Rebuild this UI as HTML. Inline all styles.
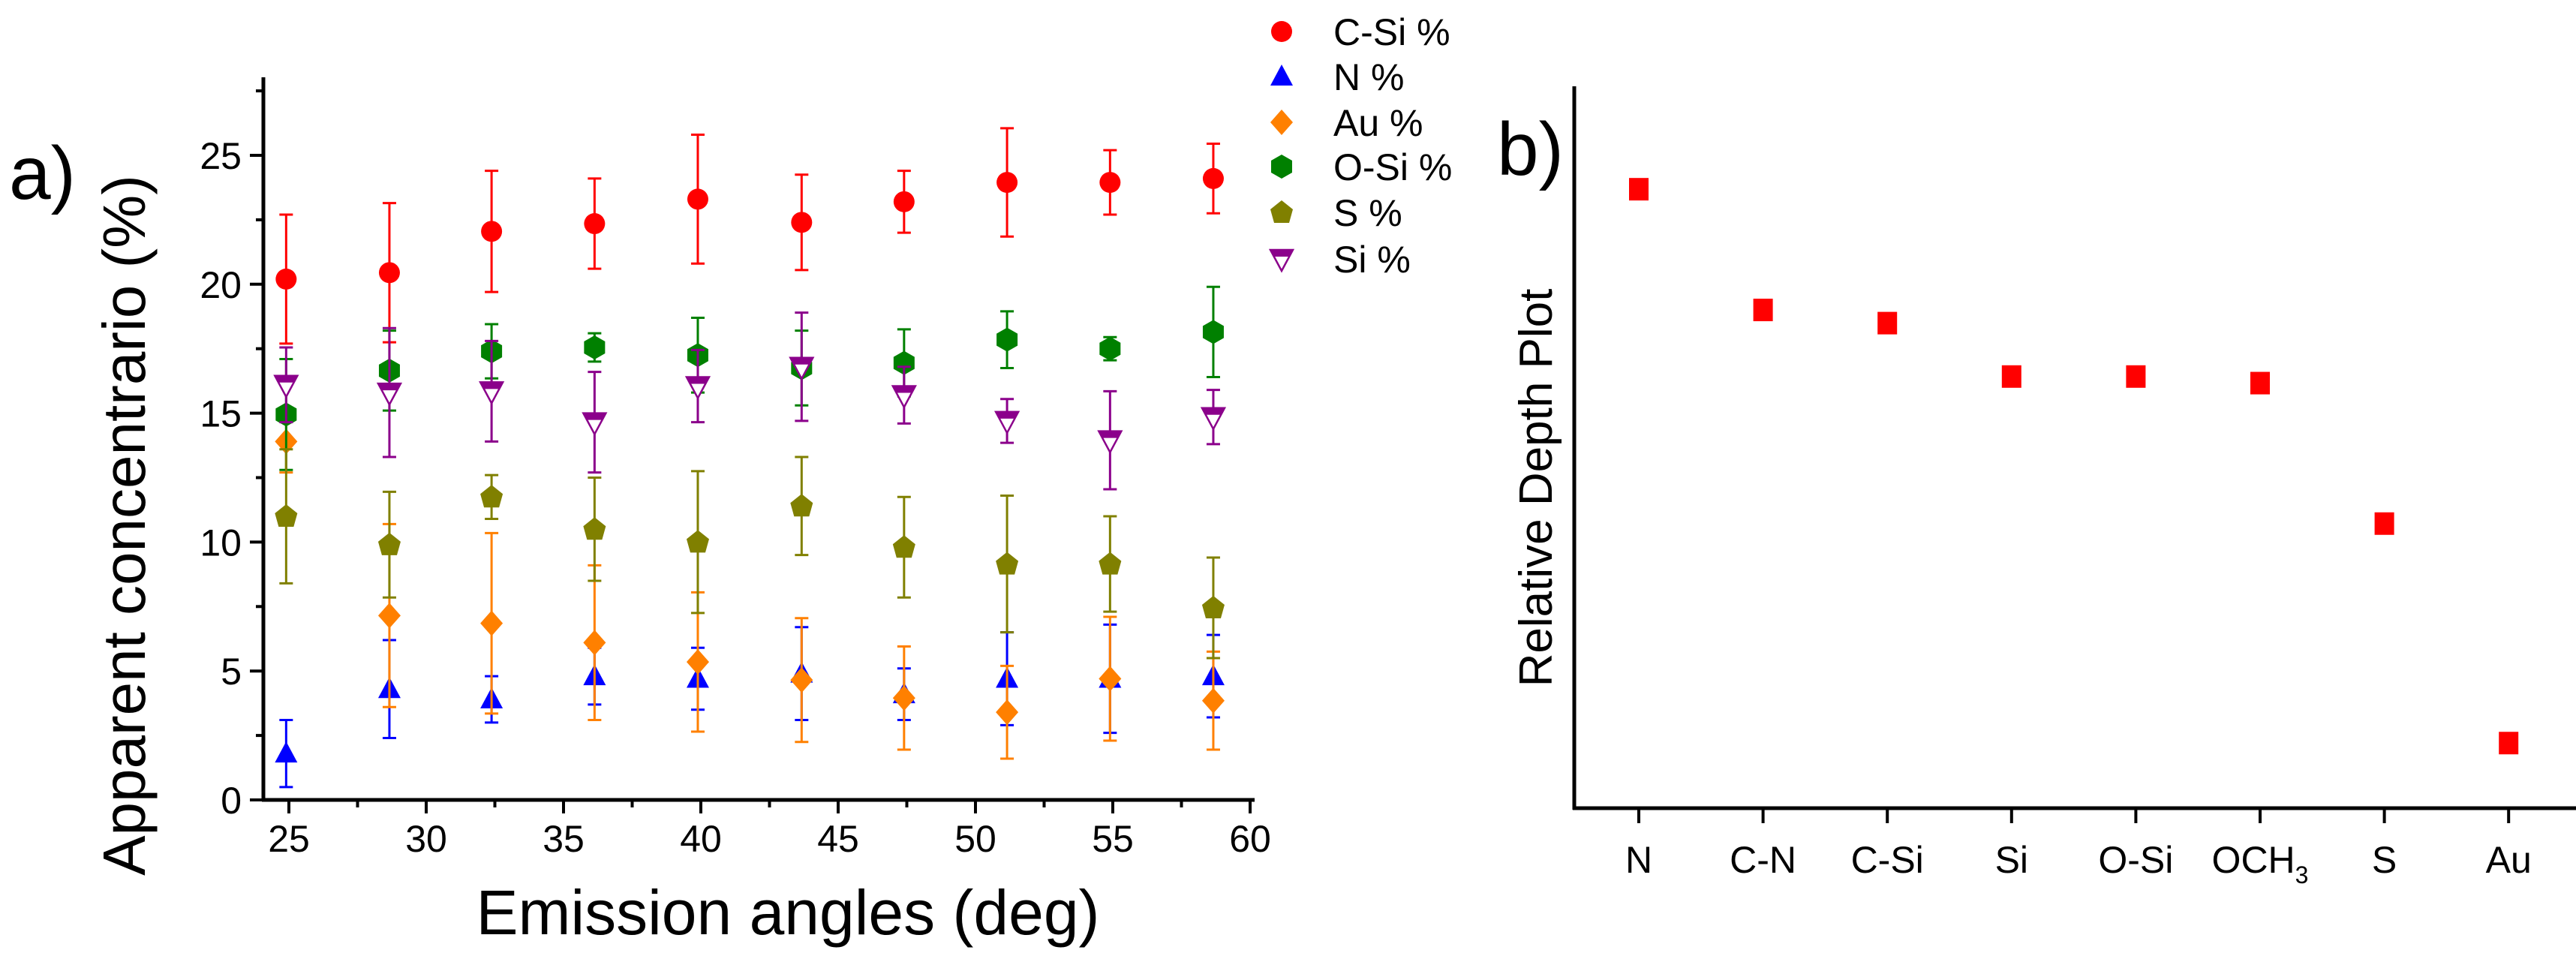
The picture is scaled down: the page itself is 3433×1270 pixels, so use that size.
<!DOCTYPE html>
<html><head><meta charset="utf-8"><style>
html,body{margin:0;padding:0;background:#fff;}
svg{display:block;}
text{font-family:"Liberation Sans",sans-serif;fill:#000;}
</style></head><body>
<svg id="chart" width="3433" height="1270" viewBox="0 0 3433 1270" xmlns="http://www.w3.org/2000/svg"></svg>
<script>
// ---- Panel a data ----
const angles = [24.9, 28.66, 32.38, 36.13, 39.89, 43.67, 47.4, 51.15, 54.9, 58.66];
const csiVals = [20.2, 20.45, 22.05, 22.35, 23.3, 22.4, 23.2, 23.95, 23.95, 24.1];
const csiErr = [2.5, 2.7, 2.35, 1.75, 2.5, 1.85, 1.2, 2.1, 1.25, 1.35];
const nVals = [1.8, 4.3, 3.9, 4.8, 4.7, 4.9, 4.1, 4.7, 4.7, 4.8];
const nErr = [1.3, 1.9, 0.9, 1.1, 1.2, 1.8, 1.0, 1.8, 2.1, 1.6];
const auVals = [13.9, 7.15, 6.85, 6.1, 5.35, 4.65, 3.95, 3.4, 4.7, 3.85];
const auErr = [1.2, 3.55, 3.5, 3.0, 2.7, 2.4, 2.0, 1.8, 2.4, 1.9];
const osiVals = [14.95, 16.65, 17.4, 17.55, 17.25, 16.75, 16.95, 17.85, 17.5, 18.15];
const osiErr = [2.15, 1.55, 1.05, 0.55, 1.45, 1.45, 1.3, 1.1, 0.45, 1.75];
const sVals = [11.0, 9.9, 11.75, 10.5, 10.0, 11.4, 9.8, 9.15, 9.15, 7.45];
const sErr = [2.6, 2.05, 0.85, 2.0, 2.75, 1.9, 1.95, 2.65, 1.85, 1.95];
const siVals = [16.1, 15.8, 15.85, 14.65, 16.05, 16.8, 15.7, 14.7, 13.95, 14.85];
const siErr = [1.45, 2.5, 1.95, 1.95, 1.4, 2.1, 1.1, 0.85, 1.9, 1.05];
const xTicks = [25, 30, 35, 40, 45, 50, 55, 60];
const yTicks = [0, 5, 10, 15, 20, 25];
// ---- Panel b data ----
const depthCats = ["N", "C-N", "C-Si", "Si", "O-Si", "OCH3", "S", "Au"];
const depthVals = [8.47, 6.82, 6.64, 5.91, 5.91, 5.82, 3.9, 0.9];

const NS = "http://www.w3.org/2000/svg";
const svg = document.getElementById("chart");
function mk(tag, attrs, parent) {
  const e = document.createElementNS(NS, tag);
  for (const k in attrs) e.setAttribute(k, attrs[k]);
  (parent || svg).appendChild(e);
  return e;
}
const AX0 = 1066;
const ax = v => 385 + (v - 25) * (1666 - 385) / 35;
const ay = v => AX0 - v * (AX0 - 207) / 25;

const ga = mk("g", {});



let l = mk("line", {x1: 351, y1: 103, x2: 351, y2: AX0 + 2, stroke: "#000", "stroke-width": 5}, ga);


l = mk("line", {x1: 349, y1: AX0, x2: 1672, y2: AX0, stroke: "#000", "stroke-width": 5}, ga);



for (let v = 25; v <= 60; v += 2.5) {
  const major = (v % 5 === 0);
  mk("line", {x1: ax(v), y1: AX0, x2: ax(v), y2: AX0 + (major ? 18 : 10), stroke: "#000", "stroke-width": 4}, ga);
}
xTicks.forEach(v => {
  const t = mk("text", {x: ax(v), y: 1135, "font-size": 50, "text-anchor": "middle"}, ga);
  t.textContent = v;
  
  
});
for (let v = 0; v <= 27.5; v += 2.5) {
  const major = (v % 5 === 0);
  mk("line", {x1: 351, y1: ay(v), x2: 351 - (major ? 18 : 10), y2: ay(v), stroke: "#000", "stroke-width": 4}, ga);
}
yTicks.forEach(v => {
  const t = mk("text", {x: 322, y: ay(v) + 18, "font-size": 50, "text-anchor": "end"}, ga);
  t.textContent = v;
  
  
});
let t = mk("text", {x: 1050, y: 1245, "font-size": 84, "text-anchor": "middle"}, ga);
t.textContent = "Emission angles (deg)";


t = mk("text", {x: 0, y: 0, "font-size": 80, "text-anchor": "middle", transform: "translate(193,700) rotate(-90)"}, ga);
t.textContent = "Apparent concentrario (%)";


t = mk("text", {x: 12, y: 265, "font-size": 100}, ga);
t.textContent = "a)";



function marker(shape, color, cx, cy, parent) {
  const r = 14;
  if (shape === "circle") return mk("circle", {cx, cy, r, fill: color}, parent);
  let pts;
  if (shape === "tri") pts = [[0,-16],[15,12],[-15,12]];
  if (shape === "diamond") pts = [[0,-17],[15,0],[0,17],[-15,0]];
  if (shape === "hex") pts = [[0,-16],[14,-8],[14,8],[0,16],[-14,8],[-14,-8]];
  if (shape === "pent") pts = [[0,-16],[15,-4],[10,14],[-10,14],[-15,-4]];
  if (shape === "dtri") {
    const g = mk("g", {}, parent);
    mk("polygon", {points: [[cx-15,cy-12],[cx+15,cy-12],[cx,cy+16]].map(p=>p.join(",")).join(" "), fill: "#fff", stroke: color, "stroke-width": 2.5}, g);
    mk("polygon", {points: [[cx-15,cy-13],[cx+15,cy-13],[cx+10,cy-3],[cx-10,cy-3]].map(p=>p.join(",")).join(" "), fill: color}, g);
    return g;
  }
  return mk("polygon", {points: pts.map(p => (cx+p[0]) + "," + (cy+p[1])).join(" "), fill: color}, parent);
}

const series = [
  {name: "csi", label: "C-Si %", vals: csiVals, err: csiErr, color: "#ff0000", shape: "circle"},
  {name: "n", label: "N %", vals: nVals, err: nErr, color: "#0000ff", shape: "tri"},
  {name: "au", label: "Au %", vals: auVals, err: auErr, color: "#ff8000", shape: "diamond"},
  {name: "osi", label: "O-Si %", vals: osiVals, err: osiErr, color: "#008000", shape: "hex"},
  {name: "s", label: "S %", vals: sVals, err: sErr, color: "#808000", shape: "pent"},
  {name: "si", label: "Si %", vals: siVals, err: siErr, color: "#8b008b", shape: "dtri"}
];
series.forEach((s, si) => {
  const g = mk("g", {}, ga);
  
  
  s.vals.forEach((v, i) => {
    const x = ax(angles[i]);
    const y1 = ay(v + s.err[i]), y2 = ay(v - s.err[i]);
    const eb = mk("path", {d: `M${x},${y1}V${y2}M${x-9},${y1}H${x+9}M${x-9},${y2}H${x+9}`, stroke: s.color, "stroke-width": 3, fill: "none"}, g);
    
    
    const m = marker(s.shape, s.color, x, ay(v), g);
    
    
  });
  const ly = [42, 102, 163, 222, 283, 345][si];
  const le = mk("g", {});
  
  
  marker(s.shape, s.color, 1708, ly, le);
  const lt = mk("text", {x: 1777, y: ly + 18, "font-size": 50}, le);
  lt.textContent = s.label;
});

// ---- Panel b ----
const gb = mk("g", {});


const bx = i => 2184 + i * 165.6;
const by = v => 1078 - v * (1078 - 103) / 10;
l = mk("line", {x1: 2098, y1: 115, x2: 2098, y2: 1079, stroke: "#000", "stroke-width": 5}, gb);


l = mk("line", {x1: 2096, y1: 1077, x2: 3433, y2: 1077, stroke: "#000", "stroke-width": 5}, gb);


depthCats.forEach((c, i) => {
  mk("line", {x1: bx(i), y1: 1077, x2: bx(i), y2: 1097, stroke: "#000", "stroke-width": 4}, gb);
  const tt = mk("text", {x: bx(i), y: 1163, "font-size": 50, "text-anchor": "middle"}, gb);
  
  
  if (c === "OCH3") {
    tt.textContent = "OCH";
    const sub = mk("tspan", {"font-size": 32, dy: 14}, tt);
    sub.textContent = "3";
  } else tt.textContent = c;
  const r = mk("rect", {x: bx(i) - 13, y: by(depthVals[i]) - 15, width: 26, height: 30, fill: "#ff0000"}, gb);
  
  
});
t = mk("text", {x: 0, y: 0, "font-size": 62, "text-anchor": "middle", transform: "translate(2068,650) rotate(-90)"}, gb);
t.textContent = "Relative Depth Plot";


t = mk("text", {x: 1995, y: 233, "font-size": 100}, gb);
t.textContent = "b)";


</script>
</body></html>
